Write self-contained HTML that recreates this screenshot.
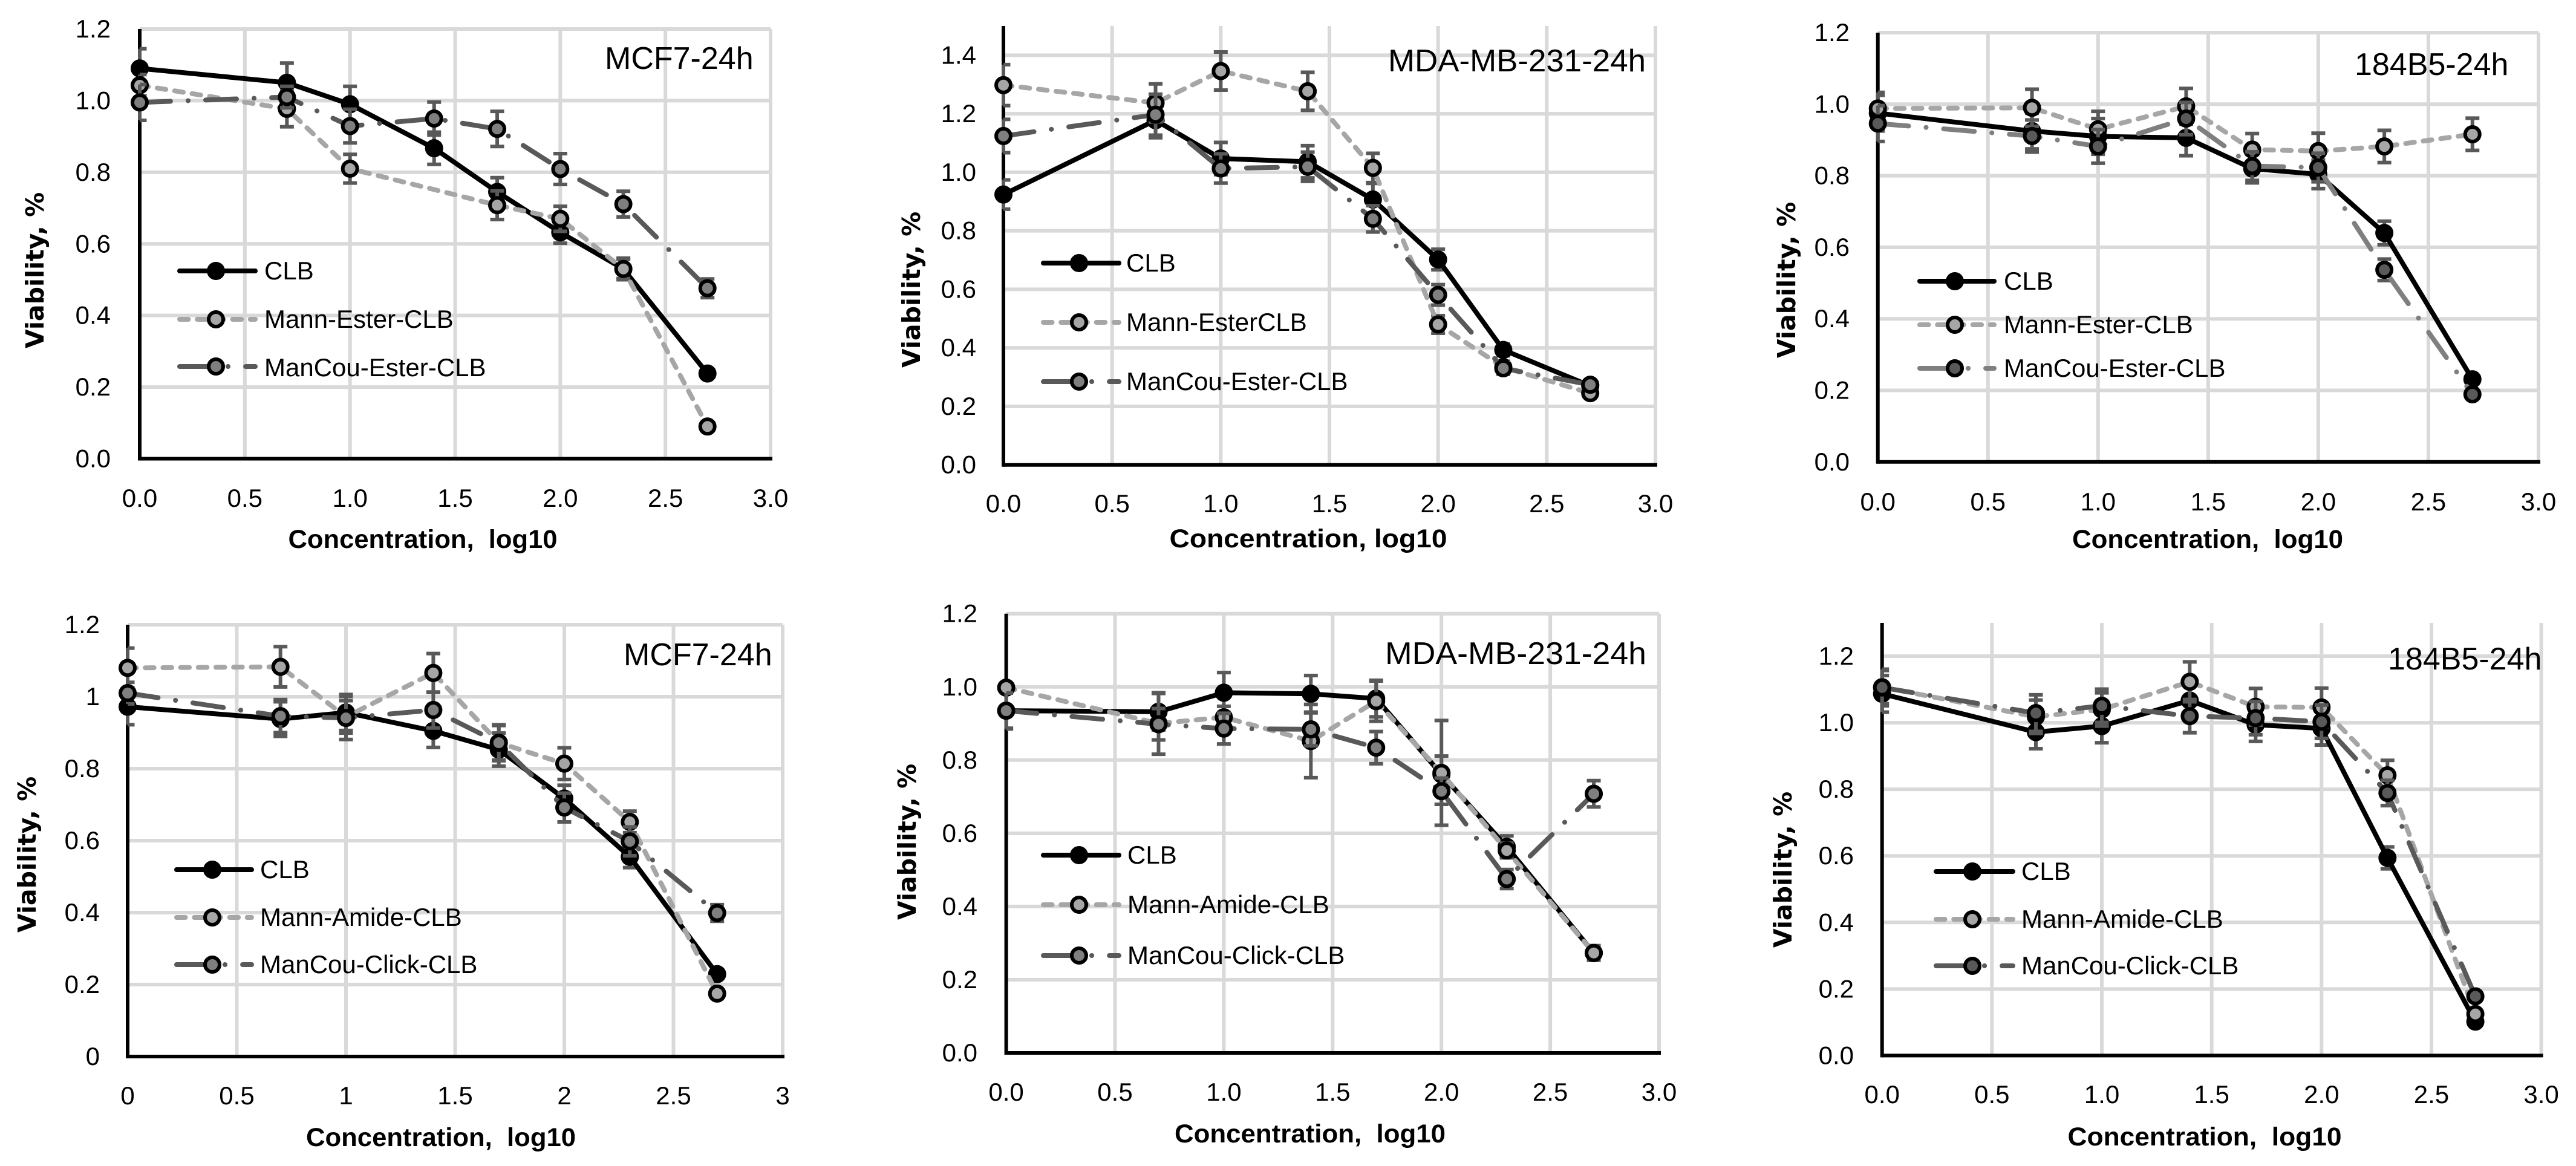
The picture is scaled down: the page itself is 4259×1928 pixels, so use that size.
<!DOCTYPE html>
<html lang="en">
<head>
<meta charset="utf-8">
<title>Viability charts</title>
<style>
html,body{margin:0;padding:0;background:#fff}
svg{display:block}
text{font-family:"Liberation Sans",sans-serif;fill:#000}
.title{font-size:52px}
.legend-label{font-size:42px}
.tick{font-size:42px}
.x-title{font-size:43px;font-weight:bold;white-space:pre;text-anchor:middle}
.y-title{font-family:"DejaVu Sans","Liberation Sans",sans-serif;font-size:41px;font-weight:bold;text-anchor:middle}
</style>
</head>
<body>
<svg id="chart-root" xmlns="http://www.w3.org/2000/svg" width="4259" height="1928" viewBox="0 0 4259 1928">
<g id="p1">
<g id="p1-marks"></g>
<text class="title" x="1000" y="114">MCF7-24h</text>
<text class="x-title" x="699" y="906" textLength="445" lengthAdjust="spacingAndGlyphs">Concentration,  log10</text>
<text class="y-title" transform="translate(72,447) rotate(-90)">Viability, %</text>
<text class="legend-label" x="437" y="462">CLB</text>
<text class="legend-label" x="437" y="542">Mann-Ester-CLB</text>
<text class="legend-label" x="437" y="622">ManCou-Ester-CLB</text>
</g>
<g id="p2">
<g id="p2-marks"></g>
<text class="title" x="2295" y="118" textLength="426" lengthAdjust="spacingAndGlyphs">MDA-MB-231-24h</text>
<text class="x-title" x="2163" y="905" textLength="459" lengthAdjust="spacingAndGlyphs">Concentration, log10</text>
<text class="y-title" transform="translate(1521,479) rotate(-90)">Viability, %</text>
<text class="legend-label" x="1862" y="449">CLB</text>
<text class="legend-label" x="1862" y="547">Mann-EsterCLB</text>
<text class="legend-label" x="1862" y="645">ManCou-Ester-CLB</text>
</g>
<g id="p3">
<g id="p3-marks"></g>
<text class="title" x="3893" y="124">184B5-24h</text>
<text class="x-title" x="3650" y="906" textLength="448" lengthAdjust="spacingAndGlyphs">Concentration,  log10</text>
<text class="y-title" transform="translate(2968,463) rotate(-90)">Viability, %</text>
<text class="legend-label" x="3313" y="479">CLB</text>
<text class="legend-label" x="3313" y="551">Mann-Ester-CLB</text>
<text class="legend-label" x="3313" y="623">ManCou-Ester-CLB</text>
</g>
<g id="p4">
<g id="p4-marks"></g>
<text class="title" x="1031" y="1100">MCF7-24h</text>
<text class="x-title" x="729" y="1895" textLength="446" lengthAdjust="spacingAndGlyphs">Concentration,  log10</text>
<text class="y-title" transform="translate(59,1413) rotate(-90)">Viability, %</text>
<text class="legend-label" x="430" y="1452">CLB</text>
<text class="legend-label" x="430" y="1531">Mann-Amide-CLB</text>
<text class="legend-label" x="430" y="1609">ManCou-Click-CLB</text>
</g>
<g id="p5">
<g id="p5-marks"></g>
<text class="title" x="2290" y="1098" textLength="432" lengthAdjust="spacingAndGlyphs">MDA-MB-231-24h</text>
<text class="x-title" x="2166" y="1889" textLength="448" lengthAdjust="spacingAndGlyphs">Concentration,  log10</text>
<text class="y-title" transform="translate(1514,1392) rotate(-90)">Viability, %</text>
<text class="legend-label" x="1864" y="1428">CLB</text>
<text class="legend-label" x="1864" y="1510">Mann-Amide-CLB</text>
<text class="legend-label" x="1864" y="1594">ManCou-Click-CLB</text>
</g>
<g id="p6">
<g id="p6-marks"></g>
<text class="title" x="3948" y="1107">184B5-24h</text>
<text class="x-title" x="3645" y="1894" textLength="453" lengthAdjust="spacingAndGlyphs">Concentration,  log10</text>
<text class="y-title" transform="translate(2962,1438) rotate(-90)">Viability, %</text>
<text class="legend-label" x="3342" y="1455">CLB</text>
<text class="legend-label" x="3342" y="1534">Mann-Amide-CLB</text>
<text class="legend-label" x="3342" y="1611">ManCou-Click-CLB</text>
</g>
</svg>
<script>
// Shared axis data
const concentrations = [0, 0.7, 1.0, 1.4, 1.7, 2.0, 2.3, 2.7];
const xTickValues = [0, 0.5, 1, 1.5, 2, 2.5, 3];
const xTickLabels = ['0.0', '0.5', '1.0', '1.5', '2.0', '2.5', '3.0'];
const xTickLabelsPlain = ['0', '0.5', '1', '1.5', '2', '2.5', '3'];
const yTickValues12 = [0, 0.2, 0.4, 0.6, 0.8, 1.0, 1.2];
const yTickValues14 = [0, 0.2, 0.4, 0.6, 0.8, 1.0, 1.2, 1.4];
const yTickLabels12 = ['0.0', '0.2', '0.4', '0.6', '0.8', '1.0', '1.2'];
const yTickLabels14 = ['0.0', '0.2', '0.4', '0.6', '0.8', '1.0', '1.2', '1.4'];
const yTickLabelsPlain = ['0', '0.2', '0.4', '0.6', '0.8', '1', '1.2'];

// Panel 1: MCF7 ester
const p1Clb = [1.09, 1.05, 0.99, 0.867, 0.745, 0.632, 0.53, 0.238];
const p1ClbErr = [0.055, 0.055, 0.05, 0.045, 0.04, 0.03, 0.03, 0.01];
const p1Mann = [1.043, 0.977, 0.81, null, 0.708, 0.67, 0.53, 0.09];
const p1MannErr = [0.03, 0.05, 0.04, null, 0.04, 0.035, 0.027, 0.005];
const p1ManCou = [0.995, 1.01, 0.929, 0.95, 0.921, 0.809, 0.711, 0.476];
const p1ManCouErr = [0.05, 0.03, 0.047, 0.046, 0.049, 0.043, 0.036, 0.026];

// Panel 2: MDA-MB-231 ester
const p2Clb = [0.924, 1.178, 1.047, 1.036, 0.907, 0.702, 0.393, 0.27];
const p2ClbErr = [0.05, 0.06, 0.055, 0.055, 0.055, 0.035, 0.02, 0.01];
const p2Mann = [1.298, 1.237, 1.346, 1.277, 1.015, 0.48, 0.334, 0.245];
const p2MannErr = [0.07, 0.065, 0.065, 0.065, 0.05, 0.03, 0.02, 0.01];
const p2ManCou = [1.124, 1.197, 1.013, 1.019, 0.841, 0.581, 0.33, 0.274];
const p2ManCouErr = [0.057, 0.07, 0.05, 0.05, 0.045, 0.035, 0.02, 0.01];

// Panel 3: 184B5 ester
const p3Clb = [0.975, 0.925, 0.91, 0.906, 0.82, 0.804, 0.64, 0.231];
const p3ClbErr = [0.05, 0.05, 0.05, 0.05, 0.04, 0.04, 0.033, 0.01];
const p3Mann = [0.988, 0.99, 0.93, 0.994, 0.873, 0.869, 0.882, 0.916];
const p3MannErr = [0.045, 0.052, 0.05, 0.05, 0.045, 0.05, 0.045, 0.045];
const p3ManCou = [0.946, 0.911, 0.882, 0.96, 0.827, 0.823, 0.537, 0.189];
const p3ManCouErr = [0.05, 0.045, 0.047, 0.045, 0.04, 0.04, 0.03, 0.005];

// Panel 4: MCF7 amide / click
const p4Clb = [0.972, 0.938, 0.956, 0.905, 0.853, 0.717, 0.555, 0.229];
const p4ClbErr = [0.05, 0.048, 0.05, 0.046, 0.046, 0.037, 0.03, 0.01];
const p4Mann = [1.08, 1.083, 0.944, 1.066, 0.872, 0.814, 0.652, 0.175];
const p4MannErr = [0.055, 0.056, 0.045, 0.054, 0.048, 0.044, 0.03, 0.005];
const p4ManCou = [1.01, 0.946, 0.941, 0.963, 0.872, 0.692, 0.598, 0.399];
const p4ManCouErr = [0.03, 0.046, 0.06, 0.05, 0.05, 0.04, 0.04, 0.023];

// Panel 5: MDA-MB-231 amide / click
const p5Clb = [0.935, 0.932, 0.984, 0.981, 0.968, 0.761, 0.563, 0.273];
const p5ClbErr = [0.05, 0.05, 0.055, 0.05, 0.05, 0.05, 0.03, 0.02];
const p5Mann = [0.998, 0.9, 0.917, 0.852, 0.961, 0.765, 0.553, 0.273];
const p5MannErr = [0, 0.084, 0.03, 0.1, 0.055, 0.143, 0.02, 0.01];
const p5ManCou = [0.935, 0.898, 0.886, 0.884, 0.834, 0.715, 0.475, 0.708];
const p5ManCouErr = [0.048, 0.043, 0.042, 0.045, 0.044, 0.036, 0.026, 0.036];

// Panel 6: 184B5 amide / click
const p6Clb = [1.087, 0.972, 0.99, 1.067, 0.994, 0.983, 0.594, 0.102];
const p6ClbErr = [0.055, 0.05, 0.05, 0.06, 0.05, 0.05, 0.033, 0.01];
const p6Mann = [1.107, 1.018, 1.04, 1.123, 1.048, 1.046, 0.842, 0.125];
const p6MannErr = [0.05, 0.05, 0.05, 0.06, 0.055, 0.058, 0.045, 0.01];
const p6ManCou = [1.106, 1.029, 1.051, 1.02, 1.014, 1.003, 0.789, 0.178];
const p6ManCouErr = [0.055, 0.055, 0.05, 0.05, 0.05, 0.05, 0.038, 0.01];

const NS = 'http://www.w3.org/2000/svg';
function make(parent, tag, attrs) {
  const el = document.createElementNS(NS, tag);
  for (const k in attrs) el.setAttribute(k, attrs[k]);
  parent.appendChild(el);
  return el;
}

const DASH_MANN = '14.5 14.7';
const DASH_MANCOU = '51 29 0.1 29';
const STYLE_CLB = { key: 'clb', color: '#000000', width: 8, dash: null, fill: '#000000' };
const STYLE_MANN = { key: 'mann', color: '#a6a6a6', width: 8, dash: DASH_MANN, fill: '#a6a6a6' };
const STYLE_MANCOU = { key: 'mancou', color: '#595959', width: 8, dash: DASH_MANCOU, fill: '#7f7f7f' };
const STYLE_MANCOU_LIGHT = { key: 'mancou', color: '#7f7f7f', width: 8, dash: DASH_MANCOU, fill: '#595959' };
const STYLE_MANCOU_DARK = { key: 'mancou', color: '#595959', width: 8, dash: DASH_MANCOU, fill: '#595959' };

const panels = [
  { marks: 'p1-marks', left: 231, right: 1274, bottom: 758.5, top: 48, yMax: 1.2, yTicks: yTickValues12, yLabels: yTickLabels12, xLabels: xTickLabels, xLabelY: 838, yLabelX: 183,
    key: { x0: 297, x1: 422, mx: 357, ys: [448, 528, 606] },
    series: [[p1Clb, p1ClbErr, STYLE_CLB], [p1Mann, p1MannErr, STYLE_MANN], [p1ManCou, p1ManCouErr, STYLE_MANCOU]] },
  { marks: 'p2-marks', left: 1659, right: 2737, bottom: 768.7, top: 43, yMax: 1.5, yTicks: yTickValues14, yLabels: yTickLabels14, xLabels: xTickLabels, xLabelY: 847, yLabelX: 1614,
    key: { x0: 1725, x1: 1850, mx: 1784, ys: [435, 533, 631] },
    series: [[p2Clb, p2ClbErr, STYLE_CLB], [p2Mann, p2MannErr, STYLE_MANN], [p2ManCou, p2ManCouErr, STYLE_MANCOU]] },
  { marks: 'p3-marks', left: 3104.7, right: 4197, bottom: 763.8, top: 54, yMax: 1.2, yTicks: yTickValues12, yLabels: yTickLabels12, xLabels: xTickLabels, xLabelY: 844, yLabelX: 3058,
    key: { x0: 3174, x1: 3297, mx: 3232, ys: [465, 537, 609] },
    series: [[p3Clb, p3ClbErr, STYLE_CLB], [p3Mann, p3MannErr, STYLE_MANN], [p3ManCou, p3ManCouErr, STYLE_MANCOU_LIGHT]] },
  { marks: 'p4-marks', left: 211, right: 1294, bottom: 1747, top: 1033, yMax: 1.2, yTicks: yTickValues12, yLabels: yTickLabelsPlain, xLabels: xTickLabelsPlain, xLabelY: 1826, yLabelX: 165,
    key: { x0: 292, x1: 416, mx: 351, ys: [1438, 1517, 1595] },
    series: [[p4Clb, p4ClbErr, STYLE_CLB], [p4Mann, p4MannErr, STYLE_MANN], [p4ManCou, p4ManCouErr, STYLE_MANCOU]] },
  { marks: 'p5-marks', left: 1663.6, right: 2743, bottom: 1741, top: 1014.7, yMax: 1.2, yTicks: yTickValues12, yLabels: yTickLabels12, xLabels: xTickLabels, xLabelY: 1820, yLabelX: 1616,
    key: { x0: 1725, x1: 1850, mx: 1784, ys: [1414, 1496, 1580] },
    series: [[p5Clb, p5ClbErr, STYLE_CLB], [p5Mann, p5MannErr, STYLE_MANN], [p5ManCou, p5ManCouErr, STYLE_MANCOU]] },
  { marks: 'p6-marks', left: 3111.7, right: 4201.6, bottom: 1745.4, top: 1030, yMax: 1.3, yTicks: yTickValues12, yLabels: yTickLabels12, xLabels: xTickLabels, xLabelY: 1824, yLabelX: 3065,
    key: { x0: 3201, x1: 3328, mx: 3261, ys: [1441, 1520, 1597] },
    series: [[p6Clb, p6ClbErr, STYLE_CLB], [p6Mann, p6MannErr, STYLE_MANN], [p6ManCou, p6ManCouErr, STYLE_MANCOU_DARK]] }
];

function drawPanel(p) {
  const root = document.getElementById(p.marks);
  const xScale = v => p.left + (v / 3) * (p.right - p.left);
  const yScale = v => p.bottom - (v / p.yMax) * (p.bottom - p.top);

  // Grid
  xTickValues.forEach((v, i) => {
    if (i > 0) {
      const g = make(root, 'line', { x1: xScale(v), x2: xScale(v), y1: p.top, y2: p.bottom, stroke: '#d9d9d9', 'stroke-width': 6 });
      
      
    }
    const t = make(root, 'text', { class: 'tick', x: xScale(v), y: p.xLabelY, 'text-anchor': 'middle' });
    t.textContent = p.xLabels[i];
    
    
  });
  p.yTicks.forEach((v, i) => {
    if (i > 0) {
      const g = make(root, 'line', { x1: p.left, x2: p.right, y1: yScale(v), y2: yScale(v), stroke: '#d9d9d9', 'stroke-width': 6 });
      
      
    }
    const t = make(root, 'text', { class: 'tick', x: p.yLabelX, y: yScale(v) + 14, 'text-anchor': 'end' });
    t.textContent = p.yLabels[i];
    
    
  });

  // Axes
  const yAxis = make(root, 'line', { x1: p.left, x2: p.left, y1: p.top, y2: p.bottom + 3, stroke: '#000', 'stroke-width': 6 });
  
  
  const xAxis = make(root, 'line', { x1: p.left, x2: p.right + 3, y1: p.bottom, y2: p.bottom, stroke: '#000', 'stroke-width': 6 });
  
  

  // Series
  p.series.forEach(([values, errors, style]) => {
    const pts = [];
    values.forEach((v, i) => { if (v !== null) pts.push([xScale(concentrations[i]), yScale(v), errors[i], v]); });

    pts.forEach(pt => {
      if (pt[2] > 0) {
        const top = yScale(pt[3] + pt[2]);
        const bot = yScale(pt[3] - pt[2]);
        const capL = Math.max(pt[0] - 11.5, p.left);
        const capR = pt[0] + 11.5;
        const eb = make(root, 'path', {
          d: 'M' + pt[0] + ' ' + top + 'V' + bot + 'M' + capL + ' ' + top + 'H' + capR + 'M' + capL + ' ' + bot + 'H' + capR,
          fill: 'none', stroke: '#595959', 'stroke-width': 6
        });
        
        
      }
    });

    const lineAttrs = { points: pts.map(q => q[0] + ',' + q[1]).join(' '), fill: 'none', stroke: style.color, 'stroke-width': style.width, 'stroke-linecap': 'round', 'stroke-linejoin': 'round' };
    if (style.dash) lineAttrs['stroke-dasharray'] = style.dash;
    const line = make(root, 'polyline', lineAttrs);
    
    

    pts.forEach(pt => {
      const c = make(root, 'circle', { cx: pt[0], cy: pt[1], r: 12, fill: style.fill, stroke: '#000', 'stroke-width': 6 });
      
      
    });
  });

  // Legend keys
  p.series.forEach(([, , style], i) => {
    const ky = p.key.ys[i];
    const lineAttrs = { x1: p.key.x0, x2: p.key.x1, y1: ky, y2: ky, stroke: style.color, 'stroke-width': style.width, 'stroke-linecap': 'round' };
    if (style.dash) lineAttrs['stroke-dasharray'] = style.dash;
    const kl = make(root, 'line', lineAttrs);
    
    
    const km = make(root, 'circle', { cx: p.key.mx, cy: ky, r: 12, fill: style.fill, stroke: '#000', 'stroke-width': 6 });
    
    
  });
}

panels.forEach(drawPanel);
</script>
</body>
</html>
